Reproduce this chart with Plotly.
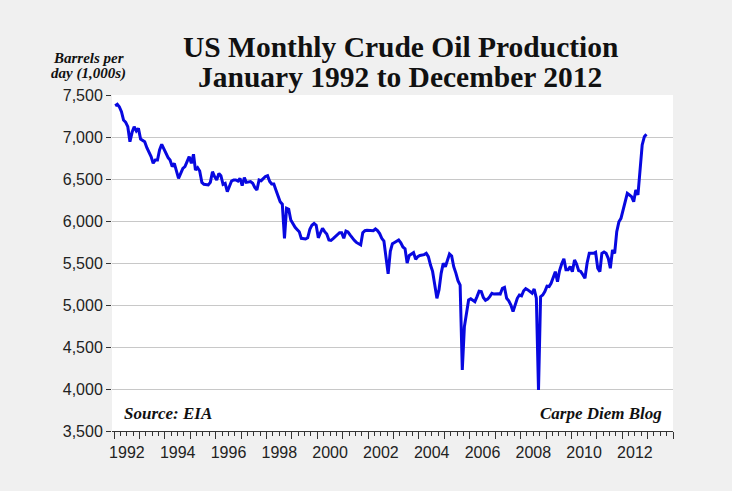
import pandas as pd
import plotly.graph_objects as go

# monthly US crude oil production, thousand barrels per day
y1992 = [7373, 7389, 7361, 7302, 7202, 7175, 7123, 6944, 7056, 7123, 7071, 7103]
y1993 = [6976, 6964, 6944, 6873, 6825, 6766, 6687, 6726, 6726, 6845, 6913, 6857]
y1994 = [6806, 6754, 6726, 6647, 6687, 6607, 6508, 6567, 6627, 6647, 6706, 6766]
y1995 = [6687, 6794, 6607, 6635, 6595, 6460, 6437, 6437, 6429, 6460, 6587, 6528]
y1996 = [6488, 6567, 6540, 6437, 6448, 6349, 6421, 6476, 6488, 6488, 6476, 6508]
y1997 = [6421, 6516, 6460, 6468, 6470, 6450, 6400, 6369, 6488, 6480, 6508, 6530]
y1998 = [6540, 6470, 6440, 6440, 6370, 6290, 6230, 6200, 5794, 6151, 6140, 6012]
y1999 = [5960, 5925, 5900, 5873, 5794, 5786, 5786, 5800, 5900, 5950, 5970, 5950]
y2000 = [5800, 5860, 5913, 5873, 5845, 5775, 5770, 5790, 5810, 5835, 5860, 5860]
y2001 = [5794, 5881, 5870, 5835, 5800, 5770, 5745, 5730, 5715, 5860, 5885, 5890]
y2002 = [5890, 5885, 5885, 5905, 5885, 5850, 5794, 5760, 5560, 5370, 5640, 5730]
y2003 = [5745, 5765, 5774, 5740, 5690, 5670, 5500, 5590, 5610, 5623, 5544, 5576]
y2004 = [5590, 5595, 5600, 5615, 5576, 5476, 5400, 5240, 5080, 5180, 5377, 5496]
y2005 = [5456, 5536, 5607, 5584, 5456, 5380, 5290, 5238, 4226, 4740, 4900, 5060]
y2006 = [5075, 5052, 5040, 5100, 5165, 5160, 5090, 5055, 5070, 5100, 5140, 5130]
y2007 = [5135, 5135, 5131, 5199, 5210, 5080, 5050, 5000, 4921, 5000, 5080, 5119]
y2008 = [5110, 5170, 5195, 5180, 5160, 5140, 5190, 5080, 3988, 5099, 5119, 5159]
y2009 = [5225, 5220, 5258, 5330, 5397, 5278, 5410, 5490, 5550, 5420, 5420, 5456]
y2010 = [5397, 5536, 5490, 5410, 5400, 5360, 5318, 5500, 5615, 5615, 5615, 5627]
y2011 = [5437, 5397, 5615, 5630, 5615, 5556, 5437, 5655, 5615, 5873, 5990, 6032]
y2012 = [6131, 6230, 6329, 6310, 6290, 6230, 6370, 6310, 6600, 6905, 7004, 7032]

years = [y1992, y1993, y1994, y1995, y1996, y1997, y1998, y1999, y2000, y2001, y2002,
         y2003, y2004, y2005, y2006, y2007, y2008, y2009, y2010, y2011, y2012]
production = [v for yr in years for v in yr]

# mid-month dates, Jan 1992 .. Dec 2012
months = pd.date_range("1992-01-01", periods=len(production), freq="MS") + pd.Timedelta(days=14)

y_ticks = [3500, 4000, 4500, 5000, 5500, 6000, 6500, 7000, 7500]
# only every other year gets a label
odd_years = {str(y): " " for y in range(1991, 2015) if y % 2 == 1}

serif = "Liberation Serif, DejaVu Serif, serif"
sans = "Liberation Sans Narrow, Arial Narrow, Liberation Sans, sans-serif"

W, H = 732, 491
L, R, T, B = 112, 59, 95, 60

fig = go.Figure()
fig.add_trace(go.Scatter(x=months, y=production, mode="lines",
                         line=dict(color="#0808E0", width=3)))

fig.update_layout(
    width=W, height=H,
    paper_bgcolor="#F0F0F0", plot_bgcolor="white",
    margin=dict(l=L, r=R, t=T, b=B),
    showlegend=False,
)

fig.update_xaxes(
    range=["1991-12-01", "2014-01-01"],
    dtick="M12", tick0="1992-01-01", tickformat="%Y", ticklabelmode="period",
    labelalias=odd_years,
    ticks="outside", ticklen=7, tickwidth=1, tickcolor="#333",
    showline=True, linecolor="#333", linewidth=1, showgrid=False,
    minor=dict(dtick="M3", tick0="1992-01-01", ticks="outside", ticklen=4,
               tickcolor="#333", showgrid=False),
    tickfont=dict(family=sans, size=16, color="#222"),
)
fig.update_yaxes(
    range=[3500, 7500], tickvals=y_ticks, tickformat=",",
    ticks="outside", ticklen=5, tickcolor="#333",
    showgrid=True, gridcolor="#C8C8C8", gridwidth=1, zeroline=False,
    tickfont=dict(family=sans, size=16, color="#222"),
)


def px_ann(text, x, y, size, xanchor="center", italic=False):
    # place text by pixel position on the page
    fig.add_annotation(text=text, xref="paper", yref="paper",
                       x=(x - L) / (W - L - R), y=(H - B - y) / (H - T - B),
                       xanchor=xanchor, yanchor="middle", showarrow=False,
                       font=dict(family=serif, size=size, color="#111",
                                 style="italic" if italic else "normal"))


px_ann("<b>US Monthly Crude Oil Production</b>", 400, 47, 29.5)
px_ann("<b>January 1992 to December 2012</b>", 400, 77, 29.5)
px_ann("<b>Barrels per</b>", 88, 58, 15, italic=True)
px_ann("<b>day (1,000s)</b>", 88, 73, 15, italic=True)
px_ann("<b>Source: EIA</b>", 122, 413, 17, xanchor="left", italic=True)
px_ann("<b>Carpe Diem Blog</b>", 664, 413, 17, xanchor="right", italic=True)

fig.write_html("out.html", config={"displayModeBar": False},
               post_script="document.body.style.margin='0';")
